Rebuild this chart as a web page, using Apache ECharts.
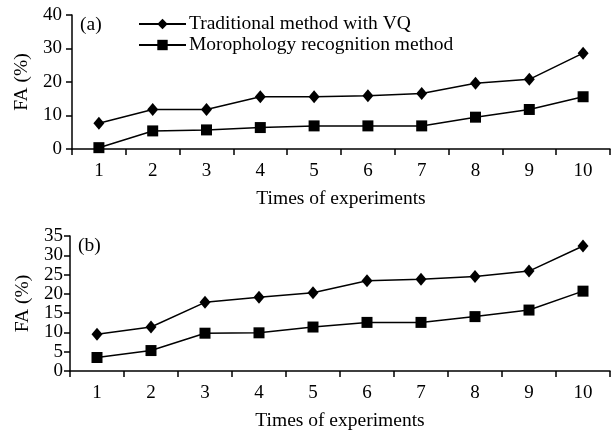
<!DOCTYPE html>
<html><head><meta charset="utf-8">
<script src="https://cdn.jsdelivr.net/npm/echarts@6/dist/echarts.min.js"></script>
<style>html,body{margin:0;padding:0;background:#fff}#c{width:611px;height:434px}</style>
</head><body><div id="c"></div>
<script>
const categories = ['1','2','3','4','5','6','7','8','9','10'];
const seriesNames = ['Traditional method with VQ','Morophology recognition method'];
const aTraditional = [7.7, 11.8, 11.8, 15.6, 15.6, 15.9, 16.6, 19.6, 20.8, 28.6];
const aMorphology  = [0.4, 5.4, 5.7, 6.4, 6.9, 6.9, 6.9, 9.5, 11.8, 15.6];
const bTraditional = [9.5, 11.4, 17.8, 19.1, 20.3, 23.4, 23.8, 24.5, 25.9, 32.4];
const bMorphology  = [3.5, 5.3, 9.8, 9.9, 11.4, 12.6, 12.6, 14.1, 15.8, 20.7];
const yTicksA = {min:0, max:40, interval:10};
const yTicksB = {min:0, max:35, interval:5};

const FONT = 'Liberation Serif';
const FS = 19.5;
const black = '#000';
const chart = echarts.init(document.getElementById('c'), null, {renderer:'canvas'});

function xAxis(gi){
  return {
    type:'category', gridIndex:gi, data:categories, boundaryGap:true,
    name:'Times of experiments', nameLocation:'middle', nameGap:40,
    nameTextStyle:{fontFamily:FONT, fontSize:FS, color:black},
    axisLine:{lineStyle:{color:black, width:1.5}},
    axisTick:{show:true, length:6, inside:false, alignWithLabel:false, lineStyle:{color:black, width:1.5}},
    axisLabel:{fontFamily:FONT, fontSize:19, color:black, margin:13},
    splitLine:{show:false}
  };
}
function yAxis(gi, t, margin){
  return {
    type:'value', gridIndex:gi, min:t.min, max:t.max, interval:t.interval,
    name:'FA (%)', nameLocation:'middle', nameGap:36, nameRotate:90,
    nameTextStyle:{fontFamily:FONT, fontSize:FS, color:black},
    axisLine:{show:true, lineStyle:{color:black, width:1.5}},
    axisTick:{show:true, length:6, lineStyle:{color:black, width:1.5}},
    axisLabel:{fontFamily:FONT, fontSize:19, color:black, margin:margin},
    splitLine:{show:false}
  };
}
function line(name, data, gi, sym){
  return {
    name:name, type:'line', xAxisIndex:gi, yAxisIndex:gi, data:data,
    symbol: sym === 'd' ? 'diamond' : 'rect',
    symbolSize: sym === 'd' ? [11,13] : [11,11],
    showAllSymbol:true,
    lineStyle:{color:black, width:1.5},
    itemStyle:{color:black},
    emphasis:{disabled:true}, animation:false
  };
}

chart.setOption({
  backgroundColor:'#fff',
  animation:false,
  title:[
    {text:'(a)', left:80, top:15, padding:0, textStyle:{fontFamily:FONT, fontSize:FS, fontWeight:'normal', color:black}},
    {text:'(b)', left:78, top:236, padding:0, textStyle:{fontFamily:FONT, fontSize:FS, fontWeight:'normal', color:black}}
  ],
  legend:{
    orient:'vertical', left:138, top:14, padding:0, itemWidth:47, itemHeight:13, itemGap:1,
    data:seriesNames,
    textStyle:{fontFamily:FONT, fontSize:FS, color:black, lineHeight:19, padding:[0,0,0,-2]},
    inactiveColor:black
  },
  grid:[
    {left:72, right:1, top:15, height:134, containLabel:false},
    {left:70, right:1, top:236, height:135, containLabel:false}
  ],
  xAxis:[xAxis(0), xAxis(1)],
  yAxis:[yAxis(0, yTicksA, 10), yAxis(1, yTicksB, 7)],
  series:[
    line(seriesNames[0], aTraditional, 0, 'd'),
    line(seriesNames[1], aMorphology, 0, 's'),
    line(seriesNames[0], bTraditional, 1, 'd'),
    line(seriesNames[1], bMorphology, 1, 's')
  ]
});
</script></body></html>
